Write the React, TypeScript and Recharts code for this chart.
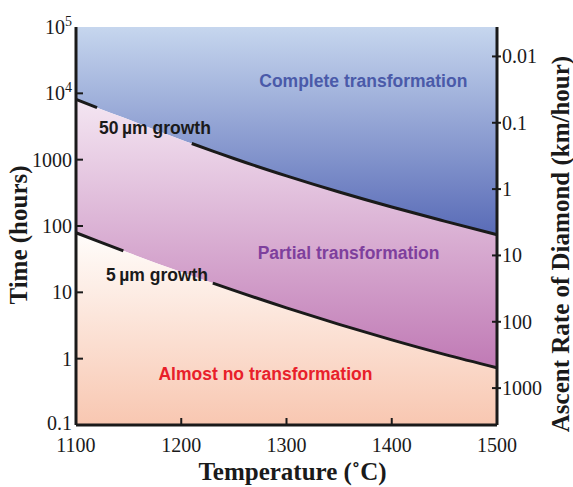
import { ComposedChart, Area, Line, XAxis, YAxis, Label, ReferenceDot } from 'recharts';

// growth-boundary curves (time in hours)
const temperatures = [1100, 1120, 1145, 1150, 1200, 1210, 1230, 1250, 1300, 1350, 1400, 1450, 1500];
const time50um = [8130, 6080, 4325, 4030, 1995, 1751, 1349, 1040, 569, 325, 193, 118.6, 74];
const time5um = [79.1, 59.7, 42.3, 39.4, 20.2, 17.8, 13.8, 10.7, 5.83, 3.29, 1.92, 1.16, 0.73];

const tempTicks = [1100, 1200, 1300, 1400, 1500];
const timeTicks = [0.1, 1, 10, 100, 1000, 10000, 100000];
const rateTicks = [0.01, 0.1, 1, 10, 100, 1000];
const RATE_X_TIME = 360; // km/hour * hours

// where the curve lines break for their labels
const gap50 = [1120, 1210];
const gap5 = [1145, 1230];

const regionLabels = [
  { text: 'Complete transformation', temp: 1373, time: 15300, color: '#4a5aa9' },
  { text: 'Partial transformation', temp: 1359, time: 40, color: '#7e3f9d' },
  { text: 'Almost no transformation', temp: 1280, time: 0.6, color: '#e8202a' },
  { text: '50\u2009\u00b5m growth', temp: 1175, time: 3000, color: '#1a1a1a' },
  { text: '5\u2009\u00b5m growth', temp: 1177, time: 18.2, color: '#1a1a1a' },
];

const TIME_MIN = timeTicks[0];
const TIME_MAX = timeTicks[timeTicks.length - 1];
const INK = '#1a1a1a';
const SERIF = "'Liberation Serif', 'Times New Roman', serif";
const SANS = "'Liberation Sans', Arial, sans-serif";

const data = temperatures.map((t, i) => ({ temp: t, t50: time50um[i], t5: time5um[i] }));

function TimeTick({ x, y, payload }: any) {
  const v = payload.value;
  const isEnd = v === TIME_MIN || v === TIME_MAX;
  const exp = v >= 10000 ? Math.round(Math.log10(v)) : null;
  return (
    <g>
      {!isEnd && <line x1={x} x2={x + 7} y1={y} y2={y} stroke={INK} strokeWidth={2} />}
      <text x={x - 4} y={v === TIME_MIN ? y - 2 : y} dy="0.35em" textAnchor="end" fontFamily={SERIF} fontSize={20} fill={INK}>
        {exp ? (
          <>
            10<tspan dy={-8} fontSize={14}>{exp}</tspan>
          </>
        ) : (
          String(v)
        )}
      </text>
    </g>
  );
}

function RateTick({ x, y, payload }: any) {
  const v = payload.value;
  const rate = rateTicks.find((r) => Math.abs(RATE_X_TIME / r - v) < 1e-6 * v);
  return (
    <g>
      <line x1={x - 5} x2={x + 4} y1={y} y2={y} stroke={INK} strokeWidth={2} />
      <text x={x + 5} y={y} dy="0.35em" textAnchor="start" fontFamily={SERIF} fontSize={20} fill={INK}>
        {String(rate)}
      </text>
    </g>
  );
}

function TempTick({ x, y, payload }: any) {
  const v = payload.value;
  const inner = v !== tempTicks[0] && v !== tempTicks[tempTicks.length - 1];
  return (
    <g>
      {inner && <line x1={x} x2={x} y1={y} y2={y - 7} stroke={INK} strokeWidth={2} />}
      <text x={x} y={y + 20} dy="0.35em" textAnchor="middle" fontFamily={SERIF} fontSize={20} fill={INK}>
        {v}
      </text>
    </g>
  );
}

function TopTick({ x, y, payload }: any) {
  const v = payload.value;
  const inner = v !== tempTicks[0] && v !== tempTicks[tempTicks.length - 1];
  return inner ? <line x1={x} x2={x} y1={y} y2={y + 7} stroke={INK} strokeWidth={2} /> : <g />;
}

const titleStyle = { fontFamily: SERIF, fontSize: 25, fontWeight: 700, fill: INK };

export default function App() {
  const frame = { stroke: INK, strokeWidth: 3 };
  return (
    <div style={{ position: 'absolute', left: 0, top: 0, background: '#fff' }}>
      <ComposedChart width={573} height={487} data={data} margin={{ top: 27, right: 0, bottom: 0, left: 0 }}>
        <defs>
          <linearGradient id="completeFill" x1="0" y1="0" x2="0" y2="1">
            <stop offset="0%" stopColor="#c6d6ee" />
            <stop offset="100%" stopColor="#596bb7" />
          </linearGradient>
          <linearGradient id="partialFill" x1="0" y1="0" x2="0" y2="1">
            <stop offset="0%" stopColor="#f4e6f2" />
            <stop offset="100%" stopColor="#c07ab5" />
          </linearGradient>
          <linearGradient id="noneFill" x1="0" y1="0" x2="0" y2="1">
            <stop offset="0%" stopColor="#fffdfb" />
            <stop offset="100%" stopColor="#f8c7b1" />
          </linearGradient>
        </defs>

        <XAxis
          xAxisId="t"
          dataKey="temp"
          type="number"
          domain={[1100, 1500]}
          ticks={tempTicks}
          interval={0}
          height={62}
          axisLine={frame}
          tickLine={false}
          tickSize={0}
          tickMargin={0}
          tick={(p: any) => <TempTick {...p} />}
        >
          <Label
            content={({ viewBox }: any) => (
              <text
                x={viewBox.x + viewBox.width / 2 + 6}
                y={viewBox.y + 46}
                textAnchor="middle"
                dominantBaseline="central"
                {...titleStyle}
              >
                Temperature (˚C)
              </text>
            )}
          />
        </XAxis>
        <XAxis
          xAxisId="top"
          orientation="top"
          dataKey="temp"
          type="number"
          domain={[1100, 1500]}
          ticks={tempTicks}
          interval={0}
          height={0}
          axisLine={frame}
          tickLine={false}
          tickSize={0}
          tickMargin={0}
          tick={(p: any) => <TopTick {...p} />}
        />
        <YAxis
          yAxisId="time"
          type="number"
          scale="log"
          domain={[TIME_MIN, TIME_MAX]}
          allowDataOverflow
          ticks={timeTicks}
          interval={0}
          width={76}
          axisLine={frame}
          tickLine={false}
          tickSize={0}
          tickMargin={0}
          tick={(p: any) => <TimeTick {...p} />}
        >
          <Label
            content={({ viewBox }: any) => {
              const cx = viewBox.x + 18;
              const cy = viewBox.y + viewBox.height / 2 + 9;
              return (
                <text
                  x={cx}
                  y={cy}
                  transform={`rotate(-90 ${cx} ${cy})`}
                  textAnchor="middle"
                  dominantBaseline="central"
                  {...titleStyle}
                >
                  Time (hours)
                </text>
              );
            }}
          />
        </YAxis>
        <YAxis
          yAxisId="rate"
          orientation="right"
          type="number"
          scale="log"
          domain={[TIME_MIN, TIME_MAX]}
          allowDataOverflow
          ticks={rateTicks.map((r) => RATE_X_TIME / r)}
          interval={0}
          width={76}
          axisLine={frame}
          tickLine={false}
          tickSize={0}
          tickMargin={0}
          tick={(p: any) => <RateTick {...p} />}
        >
          <Label
            content={({ viewBox }: any) => {
              const cx = viewBox.x + 63;
              const cy = viewBox.y + viewBox.height / 2 + 18;
              return (
                <text
                  x={cx}
                  y={cy}
                  transform={`rotate(-90 ${cx} ${cy})`}
                  textAnchor="middle"
                  dominantBaseline="central"
                  {...titleStyle}
                >
                  Ascent Rate of Diamond (km/hour)
                </text>
              );
            }}
          />
        </YAxis>

        <Area
          xAxisId="t"
          yAxisId="time"
          type="monotone"
          dataKey={(d: any) => [d.t50, TIME_MAX]}
          stroke="none"
          fill="url(#completeFill)"
          fillOpacity={1}
          isAnimationActive={false}
        />
        <Area
          xAxisId="t"
          yAxisId="time"
          type="monotone"
          dataKey={(d: any) => [d.t5, d.t50]}
          stroke="none"
          fill="url(#partialFill)"
          fillOpacity={1}
          isAnimationActive={false}
        />
        <Area
          xAxisId="t"
          yAxisId="time"
          type="monotone"
          dataKey={(d: any) => [TIME_MIN, d.t5]}
          stroke="none"
          fill="url(#noneFill)"
          fillOpacity={1}
          isAnimationActive={false}
        />

        <Line
          xAxisId="t"
          yAxisId="time"
          type="monotone"
          dataKey={(d: any) => (d.temp > gap50[0] && d.temp < gap50[1] ? null : d.t50)}
          stroke={INK}
          strokeWidth={3}
          dot={false}
          connectNulls={false}
          isAnimationActive={false}
        />
        <Line
          xAxisId="t"
          yAxisId="time"
          type="monotone"
          dataKey={(d: any) => (d.temp > gap5[0] && d.temp < gap5[1] ? null : d.t5)}
          stroke={INK}
          strokeWidth={3}
          dot={false}
          connectNulls={false}
          isAnimationActive={false}
        />

        {regionLabels.map((l) => (
          <ReferenceDot
            key={l.text}
            xAxisId="t"
            yAxisId="time"
            x={l.temp}
            y={l.time}
            r={0}
            fill="none"
            stroke="none"
            label={{
              value: l.text,
              position: 'center',
              fill: l.color,
              fontSize: 17.5,
              fontWeight: 700,
              fontFamily: SANS,
            }}
          />
        ))}
      </ComposedChart>
    </div>
  );
}
